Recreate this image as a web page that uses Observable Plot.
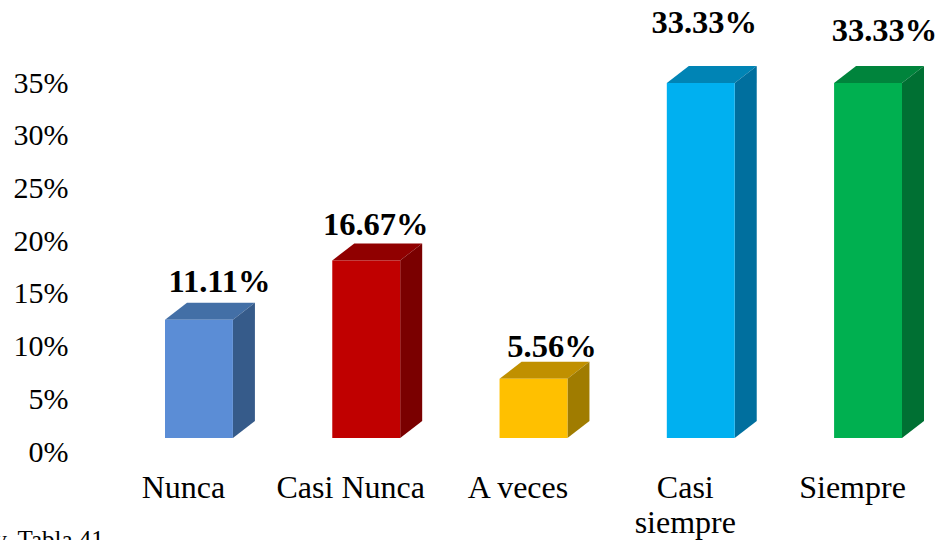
<!DOCTYPE html>
<html>
<head>
<meta charset="utf-8">
<script src="https://cdn.jsdelivr.net/npm/d3@7"></script>
<script src="https://cdn.jsdelivr.net/npm/@observablehq/plot@0.6"></script>
<style>
  html, body { margin: 0; padding: 0; background: #fff; overflow: hidden; }
  svg { display: block; }
</style>
</head>
<body>
<div id="chart"></div>
<script>
// Frequency of each response, in percent
const categories = ["Nunca", "Casi Nunca", "A veces", "Casi siempre", "Siempre"];
const percentages = [11.11, 16.67, 5.56, 33.33, 33.33];
const yTicks = [0, 5, 10, 15, 20, 25, 30, 35];
const source = "y. Tabla 41";

// Face colours of each column
const frontColors = ["#5b8dd6", "#c00000", "#ffc000", "#00b0f0", "#00b050"];
const topColors = ["#436fa6", "#900000", "#c09000", "#0084b5", "#00843c"];
const sideColors = ["#365b8a", "#7a0000", "#a07c00", "#006f9e", "#007033"];

// Offsets of the value labels from their column tops
const labelDx = [20, 9, 18, 3, 16];
const labelDy = [-54, -52, -47, -79, -71];

// Oblique projection: the front plane sits slightly lower and larger than the axis plane
const depthX = 22;
const depthY = 17;
const frontLift = 14;
const frontScale = 1.0105;

const rows = categories.map((category, i) => ({
  category,
  value: percentages[i],
  label: percentages[i].toFixed(2) + "%",
  front: frontColors[i],
  top: topColors[i],
  side: sideColors[i]
}));

// Draws a bar as three faces: front, top and right side
function column3d(index, scales, values) {
  const g = d3.create("svg:g");
  const poly = (pts, fill) => g.append("polygon")
    .attr("points", pts.map((p) => p.join(",")).join(" "))
    .attr("fill", fill);
  for (const i of index) {
    const x0 = values.x1 ? values.x1[i] : values.x[i];
    const x1 = values.x2 ? values.x2[i] : x0 + scales.x.bandwidth();
    const bottom = scales.y(0) - frontLift;
    const top = bottom - (scales.y(0) - scales.y(rows[i].value)) * frontScale;
    poly([[x0, top], [x1, top], [x1 + depthX, top - depthY], [x0 + depthX, top - depthY]], rows[i].top);
    poly([[x1, top], [x1 + depthX, top - depthY], [x1 + depthX, bottom - depthY], [x1, bottom]], rows[i].side);
    poly([[x0, top], [x1, top], [x1, bottom], [x0, bottom]], rows[i].front);
  }
  return g.node();
}

const wrapped = (c) => c === "Casi siempre" ? "Casi\nsiempre" : c;

const plot = Plot.plot({
  width: 939,
  height: 540,
  marginLeft: 72,
  marginRight: 0,
  marginTop: 0,
  marginBottom: 70,
  style: { fontFamily: "'Liberation Serif', 'Times New Roman', serif", color: "#000", background: "#fff", overflow: "hidden" },
  x: {
    type: "band",
    domain: categories,
    range: [165, 902],
    paddingInner: 0.594,
    paddingOuter: 0,
    round: false,
    label: null
  },
  y: { domain: [0, 35], range: [452, 83], label: null },
  marks: [
    Plot.axisY({ ticks: yTicks, tickFormat: (d) => d + "%", tickSize: 0, tickPadding: 4, fontSize: 30, dy: -0.5, label: null, color: "#000" }),
    Plot.axisX({ tickSize: 0, tickPadding: 2, dx: -16, fontSize: 32, lineHeight: 1.1, tickFormat: wrapped, label: null, color: "#000" }),
    Plot.barY(rows, { x: "category", y: "value", render: column3d }),
    ...rows.map((row, i) => Plot.text([row], {
      x: "category",
      y: "value",
      text: "label",
      dx: labelDx[i],
      dy: labelDy[i],
      fontSize: 32.5,
      fontWeight: "bold",
      fill: "#000"
    })),
    Plot.text([source], {
      frameAnchor: "bottom-left",
      dx: -78,
      dy: 77,
      fontSize: 25,
      fill: "#000"
    })
  ]
});

document.getElementById("chart").append(plot);
</script>
</body>
</html>
